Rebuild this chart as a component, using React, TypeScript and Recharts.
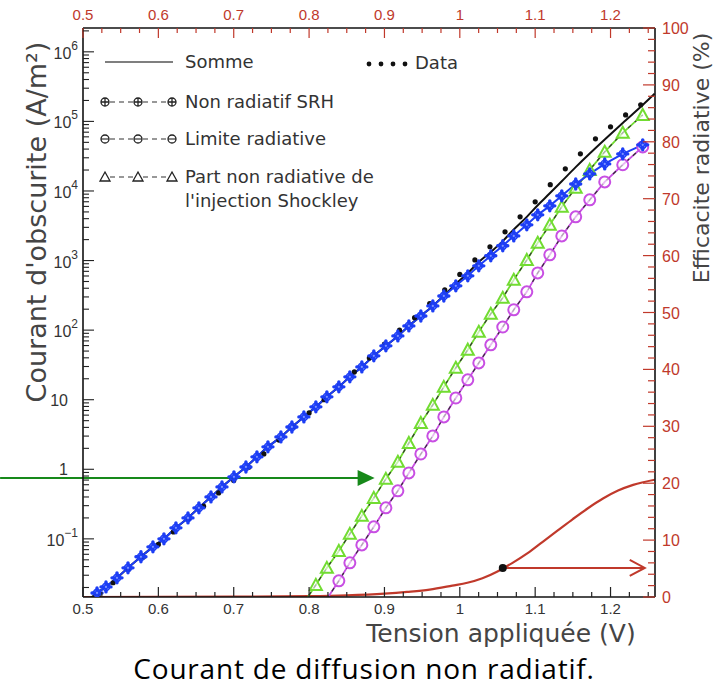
import React from 'react';
import { ComposedChart, Line, XAxis, YAxis, ReferenceLine } from 'recharts';

// applied voltage grid of the model curves (V)
const gridV = [
  0.5186, 0.5305, 0.5451, 0.5597, 0.5769, 0.5928, 0.6074, 0.6233, 0.6393, 0.6538,
  0.6698, 0.6844, 0.7003, 0.7162, 0.7308, 0.7454, 0.7626, 0.7772, 0.7931, 0.809,
  0.8236, 0.8395, 0.8541, 0.87, 0.8859, 0.9019, 0.9178, 0.9324, 0.9483, 0.9642,
  0.9788, 0.9947, 1.0106, 1.0252, 1.0411, 1.057, 1.0716, 1.0889, 1.1034, 1.1194,
  1.1353, 1.1538, 1.1724, 1.1923, 1.2162, 1.2427,
];

// Non radiatif SRH (A/m2)
const srh = [
  0.0167, 0.0204, 0.0275, 0.0383, 0.0552, 0.0767, 0.1, 0.144, 0.2, 0.279,
  0.401, 0.558, 0.778, 1.08, 1.51, 2.1, 2.92, 4.06, 5.66, 7.89,
  11.0, 15.3, 21.3, 29.6, 42.7, 59.4, 82.6, 115, 160, 223,
  310, 433, 603, 839, 1170, 1630, 2260, 3260, 4540, 6110,
  8510, 12600, 17600, 24500, 34100, 46000,
];

// Part non radiative de l'injection Shockley (A/m2)
const shockleyNR = [
  null, null, null, null, null, null, null, null, null, null,
  null, null, null, null, null, null, null, null, 0.012, 0.0218,
  0.0383, 0.0671, 0.118, 0.214, 0.388, 0.728, 1.28, 2.39, 4.64, 8.43,
  15.3, 28.7, 52.4, 94.6, 172, 291, 528, 1020, 1800, 3260,
  5920, 11100, 20100, 36600, 68600, 124000,
];

// Limite radiative (A/m2)
const radLimit = [
  null, null, null, null, null, null, null, null, null, null,
  null, null, null, null, null, null, null, null, null, null,
  0.0137, 0.0249, 0.0452, 0.0819, 0.149, 0.279, 0.49, 0.887, 1.66, 3.02,
  5.66, 10.6, 19.3, 33.8, 61.4, 111, 196, 355, 665, 1210,
  2260, 4250, 7460, 13500, 23800, 43000,
];

// Somme
const sommeV = [0.5, ...gridV, 1.2586];
const somme = [
  0.0113,
  0.0167, 0.0204, 0.0275, 0.0383, 0.0552, 0.0767, 0.1, 0.144, 0.2, 0.279,
  0.401, 0.558, 0.778, 1.08, 1.51, 2.1, 2.92, 4.06, 5.66, 7.89,
  11.0, 15.3, 21.3, 29.6, 42.7, 59.4, 82.6, 115, 160, 223,
  312, 460, 660, 950, 1330, 1900, 2800, 4250, 6250, 9250,
  13800, 22000, 34500, 55000, 95000, 172000,
  250000,
];

// measured data
const dataV = [
  0.52, 0.54, 0.56, 0.58, 0.6, 0.62, 0.64, 0.66, 0.68, 0.7,
  0.72, 0.74, 0.76, 0.78, 0.8, 0.82, 0.84, 0.86, 0.88, 0.9,
  0.92, 0.94, 0.96, 0.98, 1.0, 1.02, 1.04, 1.06, 1.08, 1.1,
  1.12, 1.14, 1.16, 1.18, 1.2, 1.22, 1.24,
];
const dataJ = [
  0.0155, 0.0234, 0.0363, 0.055, 0.0832, 0.126, 0.195, 0.295, 0.457, 0.692,
  1.07, 1.66, 2.63, 4.07, 6.46, 10.0, 15.8, 25.1, 39.8, 63.1,
  100, 151, 240, 380, 631, 1020, 1580, 2590, 4250, 6980,
  12300, 20800, 34200, 56200, 83600, 124000, 173000,
];

// Efficacite radiative (%)
const effV = [0.5, 0.6, 0.7, 0.8, 0.85, 0.9, 0.93, 0.96, 0.99, 1.01, 1.03, 1.05, 1.07, 1.09, 1.11, 1.13, 1.15, 1.17, 1.19, 1.21, 1.23, 1.2586];
const eff = [0, 0.01, 0.05, 0.15, 0.3, 0.6, 0.9, 1.3, 2.0, 2.5, 3.3, 4.5, 6.0, 7.7, 9.7, 11.7, 13.7, 15.6, 17.3, 18.7, 19.7, 20.6];

// annotations
const greenArrow = { from: 0.39, to: 0.887, j: 0.752 };
const redArrow = { from: 1.057, to: 1.2454, eff: 5.1 };

// axes
const X_MIN = 0.5;
const X_MAX = 1.259;
const Y_MIN = 0.0146;
const Y_MAX = 2.2e6;
const xMajor = [0.5, 0.6, 0.7, 0.8, 0.9, 1, 1.1, 1.2];
const xLabels = ['0.5', '0.6', '0.7', '0.8', '0.9', '1', '1.1', '1.2'];

const RED = '#c0392b';
const BLUE = '#1d3ef5';
const GREEN = '#72dc32';
const MAGENTA = '#c84fe3';
const TXT = '#454545';
const TICK_FONT = '"Liberation Sans", Arial, sans-serif';
const TITLE_FONT = '"DejaVu Sans", sans-serif';

const xTicks: number[] = [];
for (let k = 0; 0.5 + k * 0.025 <= 1.2501; k++) xTicks.push(+(0.5 + k * 0.025).toFixed(3));
const logTicks: number[] = [];
for (let e = -2; e <= 6; e++) for (let m = 1; m <= 9; m++) {
  const v = m * Math.pow(10, e);
  if (v >= Y_MIN && v <= Y_MAX) logTicks.push(v);
}
const effTicks: number[] = [];
for (let p = 0; p <= 100; p += 2) effTicks.push(p);

const rows = (xs: number[], ys: (number | null)[]) => xs.map((v, i) => ({ v, j: ys[i] }));
const srhRows = rows(gridV, srh);
const shockRows = rows(gridV, shockleyNR);
const radRows = rows(gridV, radLimit);
const sommeRows = rows(sommeV, somme);
const dataRows = rows(dataV, dataJ);
const effRows = rows(effV, eff);

const isMajorX = (v: number) => xMajor.some((m) => Math.abs(m - v) < 1e-6);
const xLabel = (v: number) => xLabels[xMajor.findIndex((m) => Math.abs(m - v) < 1e-6)];

const BottomTick = ({ x, y, payload }: any) => {
  const major = isMajorX(payload.value);
  return (
    <g>
      <line x1={x} x2={x} y1={y} y2={y - (major ? 10 : 5)} stroke="#222" strokeWidth={1.2} />
      {major && (
        <text x={x} y={y + 17} textAnchor="middle" fontSize={15} fill="#333" fontFamily={TICK_FONT}>
          {xLabel(payload.value)}
        </text>
      )}
    </g>
  );
};

const TopTick = ({ x, y, payload }: any) => {
  const major = isMajorX(payload.value);
  return (
    <g>
      <line x1={x} x2={x} y1={y} y2={y + (major ? 10 : 5)} stroke={RED} strokeWidth={1.2} />
      {major && (
        <text x={x} y={y - 8} textAnchor="middle" fontSize={15} fill={RED} fontFamily={TICK_FONT}>
          {xLabel(payload.value)}
        </text>
      )}
    </g>
  );
};

const LeftTick = ({ x, y, payload }: any) => {
  const v = payload.value;
  const e = Math.floor(Math.log10(v) + 1e-9);
  const major = Math.abs(v / Math.pow(10, e) - 1) < 1e-6;
  let label: React.ReactNode = null;
  if (major) {
    if (e === 0 || e === 1) {
      label = (
        <text x={x - 15} y={y + 6} textAnchor="end" fontSize={16} fill="#333" fontFamily={TICK_FONT}>
          {e === 0 ? '1' : '10'}
        </text>
      );
    } else {
      label = (
        <text x={x - 5} y={y + 7} textAnchor="end" fontSize={16} fill="#333" fontFamily={TICK_FONT}>
          <tspan>10</tspan>
          <tspan dy={-9} fontSize={12}>{e < 0 ? '\u2212' + -e : String(e)}</tspan>
        </text>
      );
    }
  }
  return (
    <g>
      <line x1={x} x2={x + (major ? 11 : 6)} y1={y} y2={y} stroke="#222" strokeWidth={1.1} />
      {label}
    </g>
  );
};

const RightTick = ({ x, y, payload }: any) => {
  const major = payload.value % 10 === 0;
  return (
    <g>
      <line x1={x} x2={x - (major ? 12 : 7)} y1={y} y2={y} stroke={RED} strokeWidth={1.2} />
      {major && (
        <text x={x + 7} y={y + 6} textAnchor="start" fontSize={16} fill={RED} fontFamily={TICK_FONT}>
          {payload.value}
        </text>
      )}
    </g>
  );
};

const inRange = (p: any) => p.cx != null && p.cy != null && p.payload && p.payload.j != null && p.payload.j >= Y_MIN;

const BlueMark = (p: any) => {
  if (!inRange(p)) return <g key={`b-${p.index}`} />;
  const { cx, cy } = p;
  return (
    <g key={`b-${p.index}`}>
      <path d={`M${cx - 5},${cy}H${cx + 5}M${cx},${cy - 5}V${cy + 5}`} stroke={BLUE} strokeWidth={3.4} strokeLinecap="round" />
      <circle cx={cx} cy={cy} r={3.6} fill="none" stroke={BLUE} strokeWidth={1.6} />
      <circle cx={cx} cy={cy} r={1.1} fill="#7f95ff" />
    </g>
  );
};

const TriMark = (p: any) => {
  if (!inRange(p)) return <g key={`t-${p.index}`} />;
  const { cx, cy } = p;
  return (
    <path key={`t-${p.index}`} d={`M${cx},${cy - 6}L${cx + 6},${cy + 5}L${cx - 6},${cy + 5}Z`} fill="#fff" fillOpacity={0.6} stroke={GREEN} strokeWidth={2} />
  );
};

const CircMark = (p: any) => {
  if (!inRange(p)) return <g key={`c-${p.index}`} />;
  const { cx, cy } = p;
  return <circle key={`c-${p.index}`} cx={cx} cy={cy} r={5.5} fill="#fff" fillOpacity={0.6} stroke={MAGENTA} strokeWidth={2} />;
};

const GreenArrowShape = ({ x1, y1, x2 }: any) => (
  <g>
    <line x1={x1} y1={y1} x2={x2 - 16} y2={y1} stroke="#17891a" strokeWidth={2} />
    <path d={`M${x2},${y1}L${x2 - 17},${y1 - 8}L${x2 - 17},${y1 + 8}Z`} fill="#17891a" />
  </g>
);

const RedArrowShape = ({ x1, y1, x2 }: any) => (
  <g>
    <line x1={x1} y1={y1} x2={x2} y2={y1} stroke={RED} strokeWidth={2} />
    <path d={`M${x2 - 15},${y1 - 8}L${x2},${y1}L${x2 - 15},${y1 + 8}`} fill="none" stroke={RED} strokeWidth={2} />
    <circle cx={x1} cy={y1} r={4} fill="#111" />
  </g>
);

const Legend = () => {
  const plus = (x: number, y: number) => (
    <g key={`lp${x}`}>
      <circle cx={x} cy={y} r={4} fill="none" stroke="#222" strokeWidth={1.3} />
      <path d={`M${x - 4},${y}H${x + 4}M${x},${y - 4}V${y + 4}`} stroke="#222" strokeWidth={1.3} />
    </g>
  );
  const circ = (x: number, y: number) => (
    <g key={`lc${x}`}>
      <circle cx={x} cy={y} r={4} fill="none" stroke="#222" strokeWidth={1.3} />
      <path d={`M${x - 4},${y}H${x + 4}`} stroke="#222" strokeWidth={1.1} />
    </g>
  );
  const tri = (x: number, y: number) => (
    <path key={`lt${x}`} d={`M${x},${y - 5}L${x + 5},${y + 4}L${x - 5},${y + 4}Z`} fill="none" stroke="#222" strokeWidth={1.3} />
  );
  const row = (y: number, mk: (x: number, y: number) => React.ReactNode) => (
    <g>
      <path d={`M110,${y}H133M143,${y}H167`} stroke="#333" strokeWidth={1.2} strokeDasharray="5 4" />
      {[105, 138, 172].map((x) => mk(x, y))}
    </g>
  );
  const t = { fontSize: 18, fill: '#333', fontFamily: TITLE_FONT };
  return (
    <g>
      <line x1={105} x2={173} y1={62} y2={62} stroke="#555" strokeWidth={1.5} />
      <text x={185} y={68} {...t}>Somme</text>
      {[369, 381, 393, 405].map((x) => <circle key={x} cx={x} cy={64} r={2.4} fill="#111" />)}
      <text x={415} y={69} {...t}>Data</text>
      {row(102, plus)}
      <text x={185} y={108} {...t}>Non radiatif SRH</text>
      {row(139, circ)}
      <text x={185} y={145} {...t}>Limite radiative</text>
      {row(177, tri)}
      <text x={185} y={183} {...t}>Part non radiative de</text>
      <text x={185} y={207} {...t}>l'injection Shockley</text>
    </g>
  );
};

export default function App() {
  return (
    <div style={{ position: 'relative', width: 715, height: 688 }}>
      <style>{'body{margin:0}'}</style>
      <ComposedChart width={715} height={688} margin={{ top: 0, right: 0, bottom: 61, left: 0 }}>
        <XAxis xAxisId="bottom" dataKey="v" type="number" domain={[X_MIN, X_MAX]} allowDataOverflow
          ticks={xTicks} interval={0} tick={<BottomTick />} tickSize={0} tickMargin={0} tickLine={false}
          height={30} axisLine={{ stroke: '#111', strokeWidth: 1.6 }} />
        <XAxis xAxisId="top" orientation="top" dataKey="v" type="number" domain={[X_MIN, X_MAX]} allowDataOverflow
          ticks={xTicks} interval={0} tick={<TopTick />} tickSize={0} tickMargin={0} tickLine={false}
          height={28} axisLine={{ stroke: '#111', strokeWidth: 1.6 }} />
        <YAxis yAxisId="left" type="number" scale="log" domain={[Y_MIN, Y_MAX]} allowDataOverflow
          ticks={logTicks} interval={0} tick={<LeftTick />} tickSize={0} tickMargin={0} tickLine={false}
          width={83} axisLine={{ stroke: '#111', strokeWidth: 1.6 }} />
        <YAxis yAxisId="right" orientation="right" type="number" domain={[0, 100]} allowDataOverflow
          ticks={effTicks} interval={0} tick={<RightTick />} tickSize={0} tickMargin={0} tickLine={false}
          width={60} axisLine={{ stroke: '#111', strokeWidth: 1.6 }} />

        <Line xAxisId="top" yAxisId="right" data={effRows} dataKey="j" type="monotone" stroke={RED} strokeWidth={2.2} dot={false} isAnimationActive={false} />
        <Line xAxisId="bottom" yAxisId="left" data={sommeRows} dataKey="j" type="monotone" stroke="#111" strokeWidth={2} dot={false} isAnimationActive={false} />
        <Line xAxisId="bottom" yAxisId="left" data={dataRows} dataKey="j" stroke="none" dot={{ r: 2.6, fill: '#111', stroke: 'none' }} isAnimationActive={false} />
        <Line xAxisId="bottom" yAxisId="left" data={shockRows} dataKey="j" stroke={GREEN} strokeWidth={1.8} dot={false} isAnimationActive={false} />
        <Line xAxisId="bottom" yAxisId="left" data={shockRows} dataKey="j" stroke="#333" strokeWidth={1.2} strokeDasharray="4 5" dot={<TriMark />} isAnimationActive={false} />
        <Line xAxisId="bottom" yAxisId="left" data={radRows} dataKey="j" stroke={MAGENTA} strokeWidth={1.8} dot={false} isAnimationActive={false} />
        <Line xAxisId="bottom" yAxisId="left" data={radRows} dataKey="j" stroke="#333" strokeWidth={1.2} strokeDasharray="4 5" dot={<CircMark />} isAnimationActive={false} />
        <Line xAxisId="bottom" yAxisId="left" data={srhRows} dataKey="j" stroke={BLUE} strokeWidth={2} dot={<BlueMark />} isAnimationActive={false} />

        <ReferenceLine xAxisId="bottom" yAxisId="left" ifOverflow="visible"
          segment={[{ x: greenArrow.from, y: greenArrow.j }, { x: greenArrow.to, y: greenArrow.j }]}
          shape={GreenArrowShape} />
        <ReferenceLine xAxisId="top" yAxisId="right" ifOverflow="visible"
          segment={[{ x: redArrow.from, y: redArrow.eff }, { x: redArrow.to, y: redArrow.eff }]}
          shape={RedArrowShape} />
      </ComposedChart>

      <svg width={715} height={688} style={{ position: 'absolute', left: 0, top: 0, pointerEvents: 'none' }}>
        <Legend />
        <text transform="translate(46,222) rotate(-90)" textAnchor="middle" fontSize={27} fill={TXT} fontFamily={TITLE_FONT}>
          Courant d'obscurite (A/m²)
        </text>
        <text transform="translate(709,158) rotate(-90)" textAnchor="middle" fontSize={22} fill={TXT} fontFamily={TITLE_FONT}>
          Efficacite radiative (%)
        </text>
        <text x={501} y={642} textAnchor="middle" fontSize={25} fill={TXT} fontFamily={TITLE_FONT}>
          Tension appliquée (V)
        </text>
        <text x={364} y={679} textAnchor="middle" fontSize={28} letterSpacing={0.8} fill="#000" fontFamily={'"Open Sans", "Noto Sans", sans-serif'}>
          Courant de diffusion non radiatif.
        </text>
      </svg>
    </div>
  );
}
